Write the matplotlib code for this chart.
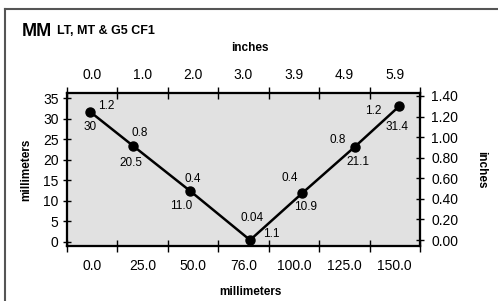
import matplotlib
matplotlib.use('Agg')
import matplotlib.pyplot as plt
from matplotlib.lines import Line2D

plt.rcParams['font.family'] = ['Liberation Sans Narrow', 'Liberation Sans', 'DejaVu Sans']

# 数据
mm_labels = ['0.0', '25.0', '50.0', '76.0', '100.0', '125.0', '150.0']
in_labels = ['0.0', '1.0', '2.0', '3.0', '3.9', '4.9', '5.9']
pt_x = [0.46, 1.31, 2.44, 3.63, 4.66, 5.71, 6.59]
pt_y = [31.7, 23.4, 12.4, 0.4, 11.8, 23.2, 33.1]
top_text = ['1.2', '0.8', '0.4', '0.04', '0.4', '0.8', '1.2']
bot_text = ['30', '20.5', '11.0', '1.1', '10.9', '21.1', '31.4']
left_ticks = [0, 5, 10, 15, 20, 25, 30, 35]
right_ticks = [0.0, 0.2, 0.4, 0.6, 0.8, 1.0, 1.2, 1.4]

# 标签偏移(像素)
top_off = [(16, 6), (7, 13), (3, 12), (2, 22), (-12, 15), (-17, 7), (-26, -5)]
bot_off = [(0, -15), (-2, -17), (-9, -15), (21, 6), (4, -14), (3, -15), (-2, -21)]

W, H = 498, 301
fig = plt.figure(figsize=(W / 100, H / 100), dpi=100, facecolor='white')
ax = fig.add_axes([67 / W, 1 - 246 / H, 353 / W, 153 / H])
ax.set_facecolor('#e1e1e1')
ax.set_xlim(0, 7)
ax.set_ylim(-1.05, 36.3)

ax.plot(pt_x, pt_y, color='black', lw=1.8, marker='o', ms=6.5, zorder=3)
px = 0.72
for i in range(len(pt_x)):
    ax.annotate(top_text[i], (pt_x[i], pt_y[i]), xytext=(top_off[i][0] * px, top_off[i][1] * px),
                textcoords='offset points', ha='center', va='center', fontsize=8.5)
    ax.annotate(bot_text[i], (pt_x[i], pt_y[i]), xytext=(bot_off[i][0] * px, bot_off[i][1] * px),
                textcoords='offset points', ha='center', va='center', fontsize=8.5)

# 边框
for s in ax.spines.values():
    s.set_linewidth(1.5)

ax.set_xticks(range(8))
ax.set_xticklabels([])
ax.set_xticks([i + 0.5 for i in range(7)], minor=True)
ax.set_xticklabels(mm_labels, minor=True, fontsize=10)
ax.tick_params(axis='x', which='major', direction='inout', length=9, width=1)
ax.tick_params(axis='x', which='minor', length=0, pad=9)
ax.set_yticks(left_ticks)
ax.tick_params(axis='y', direction='inout', length=6, width=1, labelsize=10, pad=3)
ax.set_xlabel('millimeters', fontsize=8.5, fontweight='bold', family='Liberation Sans')
ax.xaxis.set_label_coords((250 - 67) / 353, -(286 - 246) / 153)
ax.set_ylabel('millimeters', fontsize=8.5, fontweight='bold', family='Liberation Sans', va='center')
ax.yaxis.set_label_coords((26 - 67) / 353, 0.497)

axt = ax.twiny()
axt.set_xlim(0, 7)
axt.set_xticks(range(8))
axt.set_xticklabels([])
axt.set_xticks([i + 0.5 for i in range(7)], minor=True)
axt.set_xticklabels(in_labels, minor=True, fontsize=10)
axt.tick_params(axis='x', which='major', direction='inout', length=9, width=1)
axt.tick_params(axis='x', which='minor', length=0, pad=8)
axt.set_xlabel('inches', fontsize=8.5, fontweight='bold', family='Liberation Sans', va='center')
axt.xaxis.set_label_coords((250 - 67) / 353, 1 + (93 - 48) / 153)

axr = ax.twinx()
axr.set_ylim(-0.058, 1.429)
axr.set_yticks(right_ticks)
axr.set_yticklabels([f'{v:.2f}' for v in right_ticks])
axr.tick_params(axis='y', direction='inout', length=6, width=1, labelsize=10, pad=5)
axr.set_ylabel('inches', fontsize=8.5, fontweight='bold', family='Liberation Sans', rotation=270,
               va='center')
axr.yaxis.set_label_coords((481 - 67) / 353, 0.5)
for a in (axt, axr):
    for s in a.spines.values():
        s.set_linewidth(1.5)

# 标题
fig.text(22 / W, 1 - 31 / H, 'MM', fontsize=13, fontweight='bold', family='Liberation Sans',
         va='center', stretch='expanded')
fig.text(57 / W, 1 - 31.5 / H, 'LT, MT & G5 CF1', fontsize=9, fontweight='bold', family='Liberation Sans',
         va='center')

# 外框
fig.add_artist(Line2D([4.5 / W, 4.5 / W], [0, 1 - 8.5 / H], transform=fig.transFigure, color='#555555', lw=1.5))
fig.add_artist(Line2D([4.5 / W, 1], [1 - 8.5 / H, 1 - 8.5 / H], transform=fig.transFigure, color='#555555', lw=1.5))

fig.savefig('out.png', dpi=100)
